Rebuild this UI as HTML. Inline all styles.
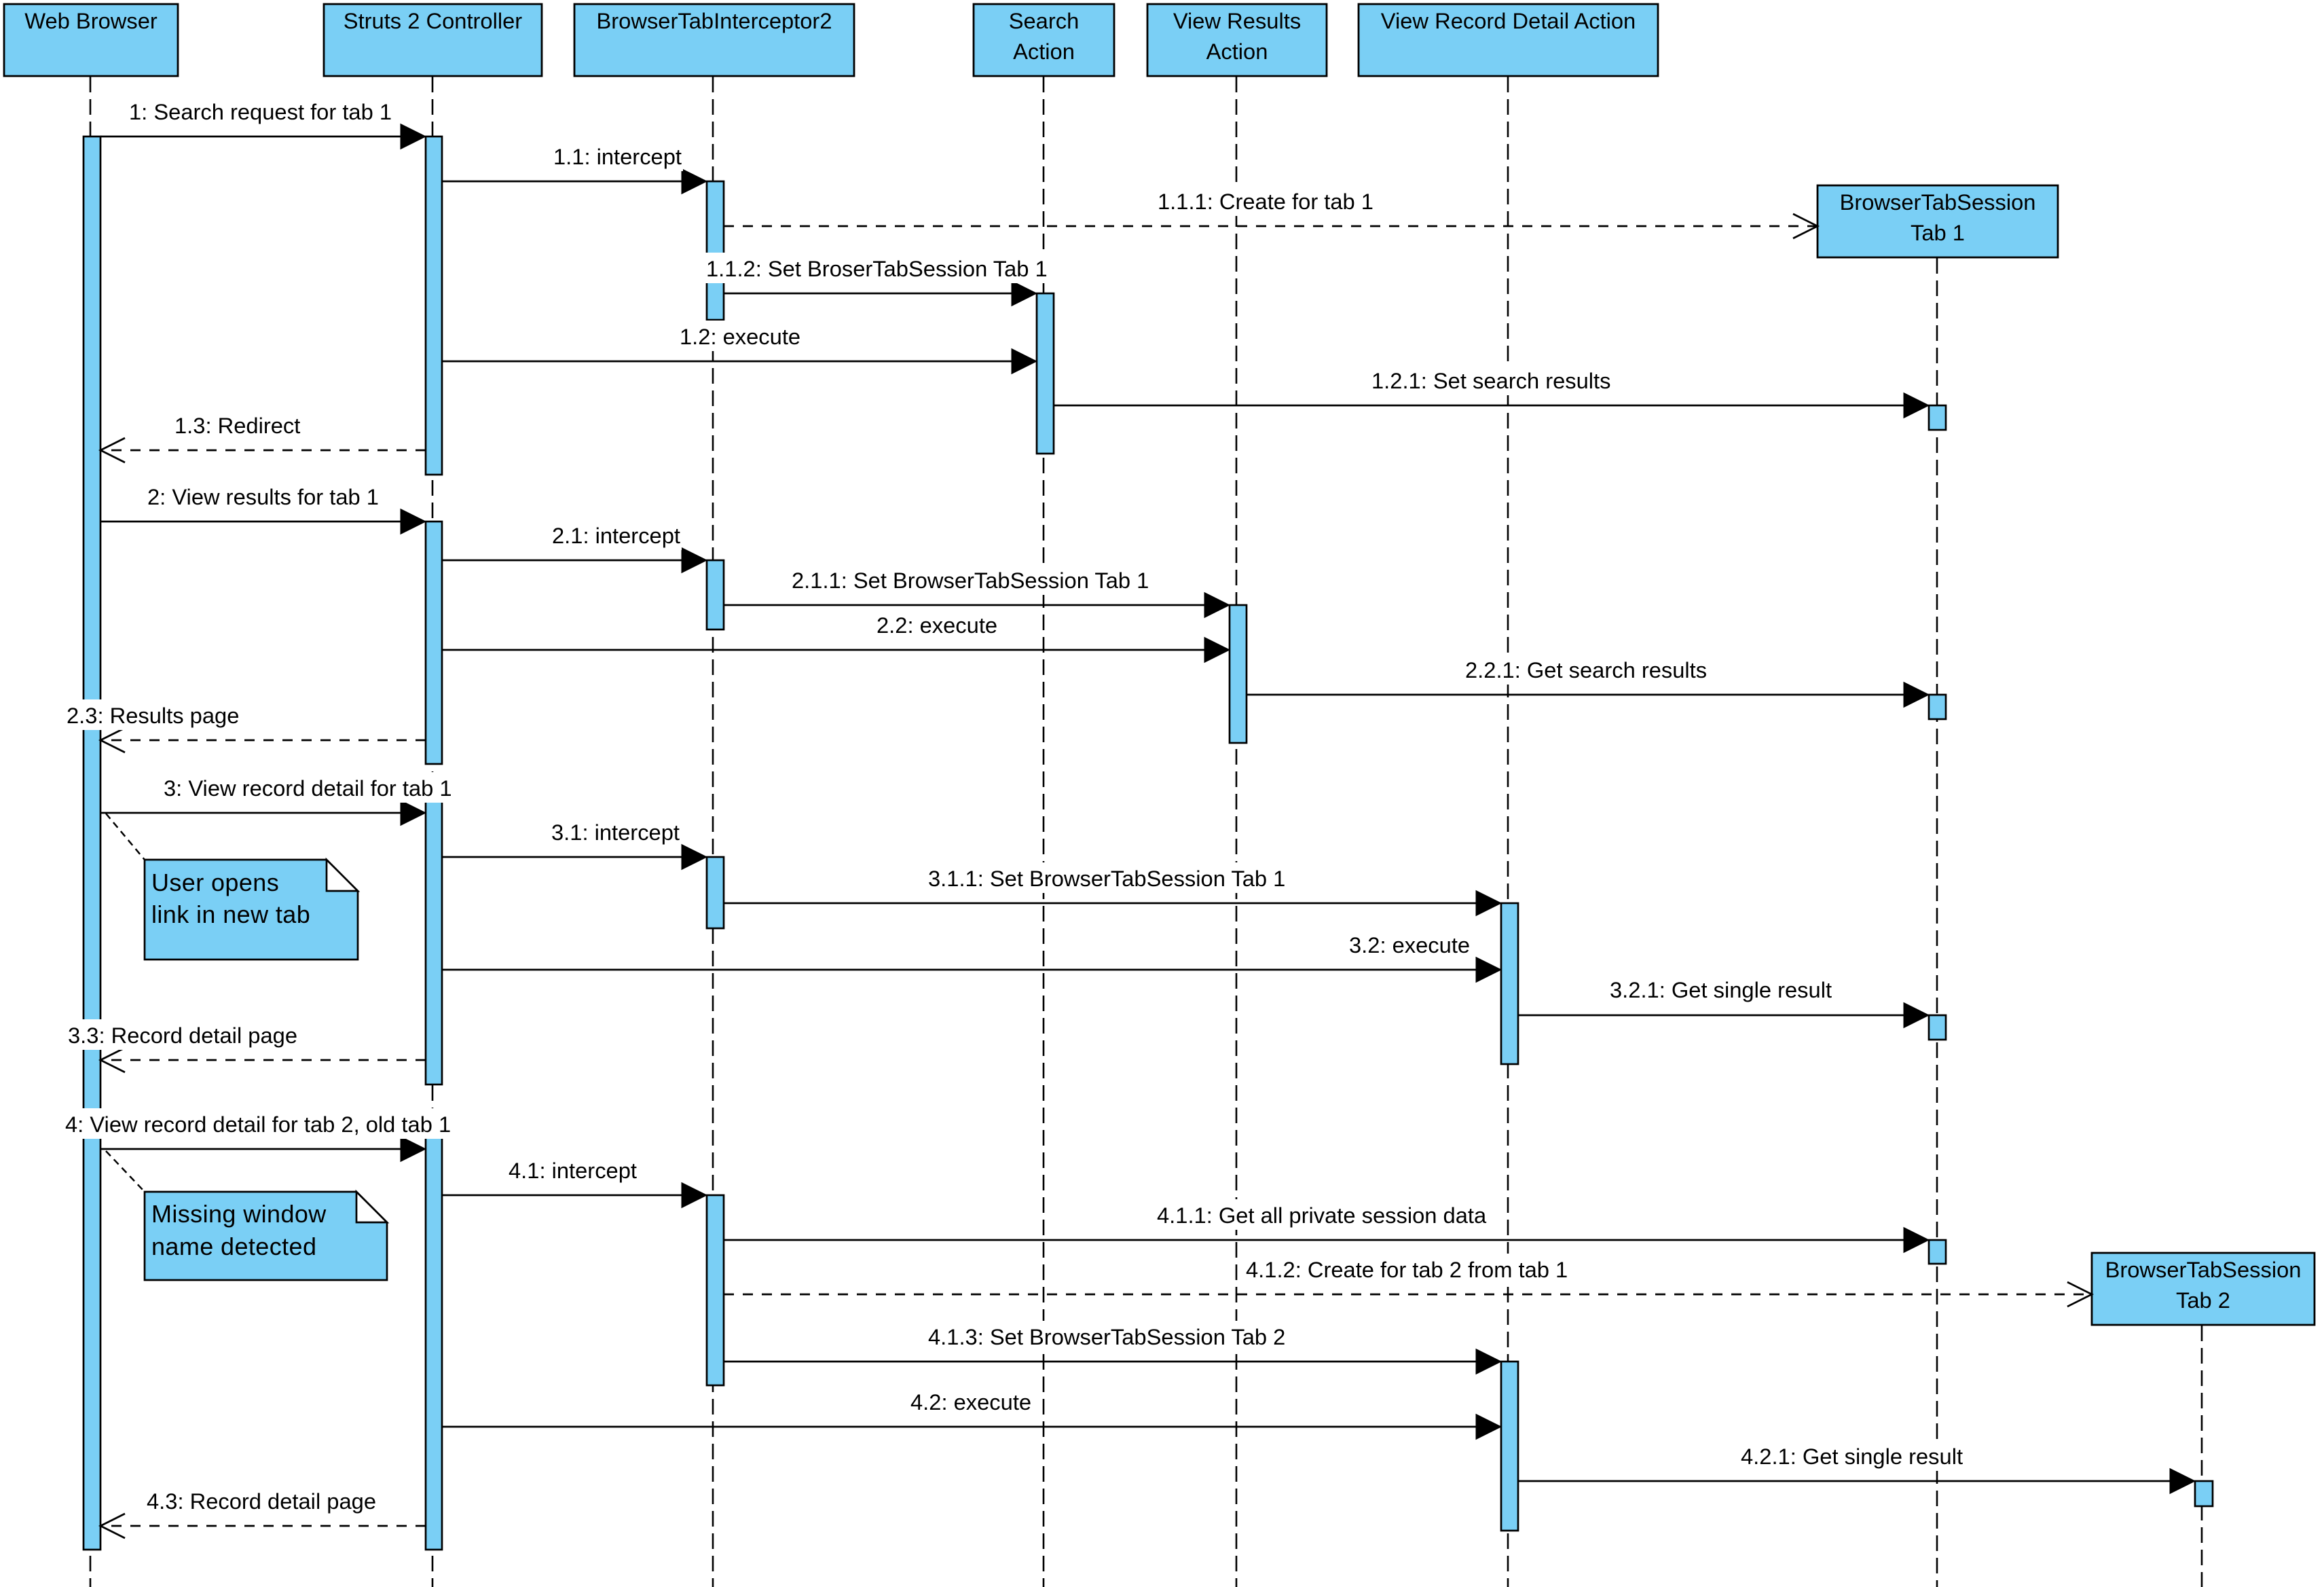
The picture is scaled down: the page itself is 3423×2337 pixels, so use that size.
<!DOCTYPE html>
<html>
<head>
<meta charset="utf-8">
<style>
html,body{margin:0;padding:0;background:#fff;}
#wrap{position:relative;width:3423px;height:2337px;overflow:hidden;background:#fff;}
svg{position:absolute;left:0;top:0;}
.l{position:absolute;font-family:"Liberation Sans",Arial,sans-serif;font-size:32.7px;line-height:36px;padding:5.7px 2px 3.8px 2px;background:#fff;white-space:nowrap;color:#000;}
</style>
</head>
<body>
<div id="wrap">
<svg width="3423" height="2337" viewBox="0 0 3423 2337" xmlns="http://www.w3.org/2000/svg">
<rect x="0" y="0" width="3423" height="2337" fill="#fff"/>
<!-- lifelines -->
<g stroke="#000" stroke-width="2.6" stroke-dasharray="23 10" fill="none">
<line x1="133" y1="113" x2="133" y2="2337"/>
<line x1="637" y1="113" x2="637" y2="2337"/>
<line x1="1050" y1="113" x2="1050" y2="2337"/>
<line x1="1537" y1="113" x2="1537" y2="2337"/>
<line x1="1821" y1="113" x2="1821" y2="2337"/>
<line x1="2221" y1="113" x2="2221" y2="2337"/>
<line x1="2853" y1="380" x2="2853" y2="2337"/>
<line x1="3243" y1="1952" x2="3243" y2="2337"/>
</g>
<!-- header boxes -->
<g fill="#7ACFF5" stroke="#000" stroke-width="2.8">
<rect x="6" y="6" width="256" height="106"/>
<rect x="477" y="6" width="321" height="106"/>
<rect x="846" y="6" width="412" height="106"/>
<rect x="1434" y="6" width="207" height="106"/>
<rect x="1690" y="6" width="264" height="106"/>
<rect x="2001" y="6" width="441" height="106"/>
<rect x="2677" y="273" width="354" height="106"/>
<rect x="3081" y="1845" width="328" height="106"/>
</g>
<g font-family="Liberation Sans, Arial, sans-serif" font-size="32.7" fill="#000" text-anchor="middle">
<text x="134" y="42">Web Browser</text>
<text x="637.5" y="42">Struts 2 Controller</text>
<text x="1052" y="42">BrowserTabInterceptor2</text>
<text x="1537.5" y="42">Search</text>
<text x="1537.5" y="87">Action</text>
<text x="1822" y="42">View Results</text>
<text x="1822" y="87">Action</text>
<text x="2221.5" y="42">View Record Detail Action</text>
<text x="2854" y="309">BrowserTabSession</text>
<text x="2854" y="354">Tab 1</text>
<text x="3245" y="1881">BrowserTabSession</text>
<text x="3245" y="1926">Tab 2</text>
</g>
<!-- activations -->
<g fill="#7ACFF5" stroke="#000" stroke-width="2.7">
<rect x="123" y="201" width="25" height="2081"/>
<rect x="627" y="201" width="24" height="498"/>
<rect x="627" y="768" width="24" height="357"/>
<rect x="627" y="1180" width="24" height="417"/>
<rect x="627" y="1675" width="24" height="607"/>
<rect x="1041" y="267" width="25" height="204"/>
<rect x="1041" y="825" width="25" height="102"/>
<rect x="1041" y="1262" width="25" height="105"/>
<rect x="1041" y="1760" width="25" height="280"/>
<rect x="1527" y="432" width="25" height="236"/>
<rect x="1811" y="891" width="25" height="203"/>
<rect x="2211" y="1330" width="25" height="237"/>
<rect x="2211" y="2005" width="25" height="249"/>
<rect x="2841" y="597" width="25" height="36"/>
<rect x="2841" y="1023" width="25" height="36"/>
<rect x="2841" y="1495" width="25" height="36"/>
<rect x="2841" y="1826" width="25" height="35"/>
<rect x="3233" y="2181" width="26" height="37"/>
</g>
<!-- synchronous messages -->
<g stroke="#000" stroke-width="2.7" fill="none">
<line x1="148" y1="201" x2="610" y2="201"/>
<line x1="651" y1="267" x2="1024" y2="267"/>
<line x1="1066" y1="432" x2="1510" y2="432"/>
<line x1="651" y1="532" x2="1510" y2="532"/>
<line x1="1552" y1="597" x2="2824" y2="597"/>
<line x1="148" y1="768" x2="610" y2="768"/>
<line x1="651" y1="825" x2="1024" y2="825"/>
<line x1="1066" y1="891" x2="1794" y2="891"/>
<line x1="651" y1="957" x2="1794" y2="957"/>
<line x1="1836" y1="1023" x2="2824" y2="1023"/>
<line x1="148" y1="1197" x2="610" y2="1197"/>
<line x1="651" y1="1262" x2="1024" y2="1262"/>
<line x1="1066" y1="1330" x2="2194" y2="1330"/>
<line x1="651" y1="1428" x2="2194" y2="1428"/>
<line x1="2236" y1="1495" x2="2824" y2="1495"/>
<line x1="148" y1="1692" x2="610" y2="1692"/>
<line x1="651" y1="1760" x2="1024" y2="1760"/>
<line x1="1066" y1="1826" x2="2824" y2="1826"/>
<line x1="1066" y1="2005" x2="2194" y2="2005"/>
<line x1="651" y1="2101" x2="2194" y2="2101"/>
<line x1="2236" y1="2181" x2="3216" y2="2181"/>
</g>
<g fill="#000" stroke="#000" stroke-width="1">
<polygon points="627,201 590,182.5 590,219.5"/>
<polygon points="1041,267 1004,248.5 1004,285.5"/>
<polygon points="1527,432 1490,413.5 1490,450.5"/>
<polygon points="1527,532 1490,513.5 1490,550.5"/>
<polygon points="2841,597 2804,578.5 2804,615.5"/>
<polygon points="627,768 590,749.5 590,786.5"/>
<polygon points="1041,825 1004,806.5 1004,843.5"/>
<polygon points="1811,891 1774,872.5 1774,909.5"/>
<polygon points="1811,957 1774,938.5 1774,975.5"/>
<polygon points="2841,1023 2804,1004.5 2804,1041.5"/>
<polygon points="627,1197 590,1178.5 590,1215.5"/>
<polygon points="1041,1262 1004,1243.5 1004,1280.5"/>
<polygon points="2211,1330 2174,1311.5 2174,1348.5"/>
<polygon points="2211,1428 2174,1409.5 2174,1446.5"/>
<polygon points="2841,1495 2804,1476.5 2804,1513.5"/>
<polygon points="627,1692 590,1673.5 590,1710.5"/>
<polygon points="1041,1760 1004,1741.5 1004,1778.5"/>
<polygon points="2841,1826 2804,1807.5 2804,1844.5"/>
<polygon points="2211,2005 2174,1986.5 2174,2023.5"/>
<polygon points="2211,2101 2174,2082.5 2174,2119.5"/>
<polygon points="3233,2181 3196,2162.5 3196,2199.5"/>
</g>
<!-- create / return messages (dashed) -->
<g stroke="#000" stroke-width="2.7" fill="none" stroke-dasharray="15 13">
<line x1="1066" y1="333" x2="2675" y2="333"/>
<line x1="1066" y1="1906" x2="3079" y2="1906"/>
<line x1="627" y1="663" x2="150" y2="663"/>
<line x1="627" y1="1090" x2="150" y2="1090"/>
<line x1="627" y1="1561" x2="150" y2="1561"/>
<line x1="627" y1="2247" x2="150" y2="2247"/>
</g>
<g stroke="#000" stroke-width="2.7" fill="none">
<polyline points="2641,315 2677,333 2641,351"/>
<polyline points="3045,1888 3081,1906 3045,1924"/>
<polyline points="184,645 148,663 184,681"/>
<polyline points="184,1072 148,1090 184,1108"/>
<polyline points="184,1543 148,1561 184,1579"/>
<polyline points="184,2229 148,2247 184,2265"/>
</g>
<!-- notes -->
<g stroke="#000" stroke-width="2.5" stroke-dasharray="10 7" fill="none">
<line x1="156" y1="1198" x2="213" y2="1266"/>
<line x1="156" y1="1695" x2="213" y2="1755"/>
</g>
<g stroke="#000" stroke-width="2.7">
<polygon points="213,1266 481,1266 527,1312 527,1413 213,1413" fill="#7ACFF5"/>
<polygon points="481,1266 481,1312 527,1312" fill="#fff"/>
<polygon points="213,1755 525,1755 570,1800 570,1885 213,1885" fill="#7ACFF5"/>
<polygon points="525,1755 525,1800 570,1800" fill="#fff"/>
</g>
<g font-family="Liberation Sans, Arial, sans-serif" font-size="36" letter-spacing="0.4" fill="#000">
<text x="223" y="1312">User opens</text>
<text x="223" y="1359">link in new tab</text>
<text x="223" y="1800">Missing window</text>
<text x="223" y="1848">name detected</text>
</g>
</svg>

<div class="l" style="left:188px;top:141px">1: Search request for tab 1</div>
<div class="l" style="left:813px;top:207px">1.1: intercept</div>
<div class="l" style="left:1703px;top:273px">1.1.1: Create for tab 1</div>
<div class="l" style="left:1038px;top:372px">1.1.2: Set BroserTabSession Tab 1</div>
<div class="l" style="left:999px;top:472px">1.2: execute</div>
<div class="l" style="left:2018px;top:537px">1.2.1: Set search results</div>
<div class="l" style="left:255px;top:603px">1.3: Redirect</div>
<div class="l" style="left:215px;top:708px">2: View results for tab 1</div>
<div class="l" style="left:811px;top:765px">2.1: intercept</div>
<div class="l" style="left:1164px;top:831px">2.1.1: Set BrowserTabSession Tab 1</div>
<div class="l" style="left:1289px;top:897px">2.2: execute</div>
<div class="l" style="left:2156px;top:963px">2.2.1: Get search results</div>
<div class="l" style="left:96px;top:1030px">2.3: Results page</div>
<div class="l" style="left:239px;top:1137px">3: View record detail for tab 1</div>
<div class="l" style="left:810px;top:1202px">3.1: intercept</div>
<div class="l" style="left:1365px;top:1270px">3.1.1: Set BrowserTabSession Tab 1</div>
<div class="l" style="left:1985px;top:1368px">3.2: execute</div>
<div class="l" style="left:2369px;top:1434px">3.2.1: Get single result</div>
<div class="l" style="left:98px;top:1501px">3.3: Record detail page</div>
<div class="l" style="left:94px;top:1632px">4: View record detail for tab 2, old tab 1</div>
<div class="l" style="left:747px;top:1700px">4.1: intercept</div>
<div class="l" style="left:1702px;top:1766px">4.1.1: Get all private session data</div>
<div class="l" style="left:1833px;top:1846px">4.1.2: Create for tab 2 from tab 1</div>
<div class="l" style="left:1365px;top:1945px">4.1.3: Set BrowserTabSession Tab 2</div>
<div class="l" style="left:1339px;top:2041px">4.2: execute</div>
<div class="l" style="left:2562px;top:2121px">4.2.1: Get single result</div>
<div class="l" style="left:214px;top:2187px">4.3: Record detail page</div>
</div>
</body>
</html>
